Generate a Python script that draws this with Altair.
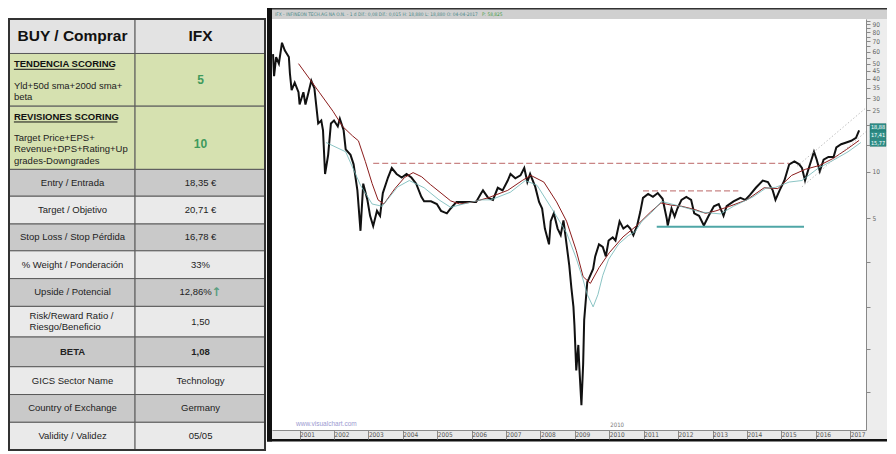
import altair as alt
import pandas as pd

# ================= TABLE CONTENT =================
row_labels = ["BUY / Comprar", "TENDENCIA SCORING", "REVISIONES SCORING", "Entry / Entrada",
              "Target / Objetivo", "Stop Loss / Stop Pérdida", "% Weight / Ponderación",
              "Upside / Potencial", "Risk/Reward  Ratio /", "BETA", "GICS Sector Name",
              "Country of Exchange", "Validity / Validez"]
row_values = ["IFX", "5", "10", "18,35 €", "20,71 €", "16,78 €", "33%", "12,86%", "1,50",
              "1,08", "Technology", "Germany", "05/05"]
tendencia_desc = ["Yld+50d sma+200d  sma+", "beta"]
revisiones_desc = ["Target Price+EPS+", "Revenue+DPS+Rating+Up", "grades-Downgrades"]
risk_label_lines = ["Risk/Reward  Ratio /", "Riesgo/Beneficio"]
upside_arrow = "↑"

# ================= PRICE DATA (decimal year, EUR) =================
price_t = [2000.23, 2000.26, 2000.32, 2000.40, 2000.49, 2000.57, 2000.69, 2000.72, 2000.77, 2000.86, 2000.97,
           2001.00, 2001.11, 2001.17, 2001.26, 2001.34, 2001.43, 2001.54, 2001.63, 2001.68, 2001.74, 2001.83, 2001.91,
           2002.00, 2002.11, 2002.17, 2002.28, 2002.34, 2002.48, 2002.57, 2002.68, 2002.77, 2002.85, 2002.97,
           2003.05, 2003.14, 2003.25, 2003.34, 2003.42, 2003.57, 2003.68, 2003.82, 2003.97,
           2004.11, 2004.25, 2004.39, 2004.54, 2004.62, 2004.82, 2004.99,
           2005.11, 2005.28, 2005.39, 2005.56, 2005.76, 2005.96,
           2006.13, 2006.28, 2006.33, 2006.48, 2006.62, 2006.76, 2006.90,
           2007.05, 2007.13, 2007.27, 2007.42, 2007.53, 2007.62, 2007.70, 2007.85, 2007.96,
           2008.05, 2008.13, 2008.25, 2008.30, 2008.39, 2008.50, 2008.59, 2008.67, 2008.76, 2008.84, 2008.90, 2008.96, 2008.99,
           2009.04, 2009.10, 2009.13, 2009.19, 2009.24, 2009.27, 2009.36, 2009.41, 2009.53, 2009.59, 2009.70, 2009.81, 2009.90, 2009.98,
           2010.10, 2010.18, 2010.30, 2010.41, 2010.53, 2010.61, 2010.70, 2010.81, 2010.90, 2010.98,
           2011.13, 2011.27, 2011.41, 2011.55, 2011.67, 2011.70, 2011.81, 2011.90, 2011.98,
           2012.10, 2012.24, 2012.38, 2012.47, 2012.61, 2012.75, 2012.89,
           2013.04, 2013.18, 2013.32, 2013.41, 2013.61, 2013.81, 2013.95,
           2014.09, 2014.26, 2014.46, 2014.61, 2014.75, 2014.83, 2014.95,
           2015.09, 2015.23, 2015.38, 2015.52, 2015.60, 2015.69, 2015.80, 2015.95,
           2016.03, 2016.12, 2016.23, 2016.37, 2016.52, 2016.60, 2016.74, 2016.89,
           2017.03, 2017.17, 2017.26]
price_v = [57.8, 41.7, 55.4, 50.2, 68.5, 61.2, 55.4, 43.5, 33.8, 37.8, 32.8,
           27.3, 32.8, 27.3, 32.8, 38.9, 34.7, 20.6, 21.5, 18.6, 9.7, 12.9, 20.6,
           21.5, 19.7, 22.1, 18.6, 14.0, 12.9, 11.2, 7.6, 4.16, 8.4, 6.6,
           5.2, 4.47, 5.6, 5.2, 7.3, 9.2, 10.6, 9.7, 9.2,
           9.7, 9.2, 8.4, 6.9, 6.45, 6.45, 6.2,
           5.6, 5.4, 5.8, 6.4, 6.4, 6.4,
           6.4, 7.3, 7.6, 6.8, 6.6, 7.9, 7.6,
           8.8, 9.7, 9.1, 9.5, 10.6, 8.6, 9.7, 8.0, 6.4,
           5.8, 4.3, 3.4, 4.8, 5.4, 4.3, 3.9, 4.86, 3.4, 2.47, 1.78, 1.34, 1.01,
           0.52, 0.76, 0.54, 0.31, 0.57, 1.10, 1.94, 2.05, 2.36, 2.84, 3.4, 3.27, 2.84, 3.6,
           3.77, 3.6, 4.79, 4.3, 4.5, 4.3, 3.9, 4.5, 5.5, 6.8,
           7.2, 6.9, 7.3, 6.7, 5.0, 4.5, 5.8, 5.14, 5.8,
           6.6, 6.9, 6.6, 5.4, 5.2, 4.5, 5.2,
           6.0, 6.2, 5.2, 6.0, 6.45, 6.8, 6.6,
           7.1, 7.9, 8.8, 8.6, 7.6, 6.6, 7.6,
           8.8, 11.2, 11.7, 11.2, 10.6, 8.8, 10.6, 13.5,
           12.0, 10.1, 12.0, 12.5, 12.5, 14.4, 15.1, 15.5,
           15.9, 16.6, 18.6]

# slow moving average (maroon)
sma_red_t = [2000.97, 2001.29, 2001.57, 2001.97, 2002.25, 2002.54, 2002.71, 2002.91, 2003.11, 2003.28,
             2003.45, 2003.77, 2004.05, 2004.30, 2004.55, 2004.80, 2005.11, 2005.39, 2005.65, 2006.05,
             2006.48, 2007.05, 2007.47, 2007.72, 2008.10, 2008.47, 2008.76, 2009.04, 2009.24, 2009.45,
             2009.70, 2010.00, 2010.40, 2010.80, 2011.20, 2011.50, 2011.80, 2012.10, 2012.50, 2012.80,
             2013.10, 2013.50, 2014.00, 2014.50, 2014.90, 2015.30, 2015.70, 2016.10, 2016.50, 2016.90, 2017.26]
sma_red_v = [50.2, 40.0, 32.8, 24.7, 19.7, 17.1, 15.9, 11.7, 8.4, 6.6,
             6.2, 7.8, 9.2, 9.9, 9.3, 8.3, 7.3, 6.5, 6.2, 6.4,
             6.8, 7.6, 8.8, 9.5, 8.6, 6.4, 4.8, 3.1, 2.1, 1.9,
             2.4, 3.0, 3.8, 4.5, 5.5, 6.3, 6.1, 6.0, 5.7, 5.4,
             5.6, 6.0, 6.6, 7.9, 7.8, 9.5, 10.4, 11.0, 12.2, 14.0, 16.0]
# long moving average (teal)
sma_teal_t = [2001.77, 2002.34, 2002.77, 2003.11, 2003.40, 2003.85, 2004.19, 2004.62, 2005.05, 2005.39,
              2005.76, 2006.28, 2006.56, 2007.13, 2007.56, 2007.90, 2008.33, 2008.76, 2009.04, 2009.24,
              2009.36, 2009.53, 2009.67, 2009.81, 2009.98, 2010.27, 2010.55, 2010.75, 2010.95, 2011.24,
              2011.52, 2011.81, 2012.18, 2012.66, 2013.23, 2013.61, 2014.18, 2014.55, 2014.83, 2015.23,
              2015.60, 2016.08, 2016.45, 2016.94, 2017.31]
sma_teal_v = [15.5, 13.5, 8.2, 6.2, 6.0, 8.0, 8.8, 7.9, 6.6, 5.9,
              6.2, 6.6, 6.6, 7.4, 8.8, 8.2, 5.8, 4.04, 2.76, 2.0,
              1.61, 1.34, 1.61, 2.14, 2.72, 3.41, 3.87, 4.1, 4.8, 5.5,
              6.45, 6.2, 5.9, 5.5, 5.35, 6.0, 6.9, 7.85, 7.95, 8.6,
              8.8, 10.6, 11.7, 13.5, 15.5]

resist_level = [11.37, 7.54]
resist_start = [2003.14, 2010.98]
resist_end = [2015.23, 2013.75]
support_level = [4.42]
support_start = [2011.38]
support_end = [2015.66]
chan_up_t = [2015.46, 2017.48]
chan_up_v = [10.9, 26.2]
chan_lo_t = [2015.60, 2017.48]
chan_lo_v = [8.0, 18.4]
tag_labels = ["18,88", "17,41", "15,77"]
tag_values = [19.4, 17.4, 15.5]
y_tick_values = [0.375, 0.71, 1.34, 2.6, 5, 10, 15, 20, 25, 30, 35, 40, 45, 50, 55, 60, 65, 70, 75, 80, 85, 90, 95]
y_label_values = [5, 10, 25, 30, 35, 40, 45, 50, 60, 70, 80, 90]
year_ticks = list(range(2001, 2018))
header_text = "IFX - INFINEON TECH.AG NA O.N. - 1 d  Dif.: 0,08  Dif.: 0,015 H: 18,880 L: 18,880 O: 04-04-2017"
header_text2 = "P: 58,825"

# ================= LAYOUT =================
FONT = "Liberation Sans, Arial, sans-serif"
NARROW = "Liberation Sans Narrow, DejaVu Sans Condensed, Liberation Sans, sans-serif"
TW, TH = 257, 433
row_edges = [0, 36, 91, 157, 185, 214, 242, 271, 300, 332, 363, 392, 421, 450]
col_edges = [0, 129, 262]
HEAD, GREEN, DARK, LIGHT = "#e3e3e3", "#d6e1b0", "#c9c9c9", "#eaeaea"
row_fills = [HEAD, GREEN, GREEN, DARK, LIGHT, DARK, LIGHT, DARK, LIGHT, DARK, LIGHT, DARK, LIGHT]
W, H = 594, 411

tx = alt.Scale(domain=[0, 263], nice=False, zero=False)
ty = alt.Scale(domain=[0, 452], nice=False, zero=False, reverse=True)

cells = []
for i in range(len(row_labels)):
    for c in range(2):
        cells.append(dict(x=col_edges[c], x2=col_edges[c + 1], y=row_edges[i], y2=row_edges[i + 1], fill=row_fills[i]))
cells_df = pd.DataFrame(cells)
center = [(row_edges[i] + row_edges[i + 1]) / 2 for i in range(len(row_labels))]


def tpos(df):
    return dict(x=alt.X("x:Q", scale=tx, axis=None), y=alt.Y("y:Q", scale=ty, axis=None), text="t:N")


cell_layer = alt.Chart(cells_df).mark_rect(stroke="#5a5a5a", strokeWidth=1).encode(
    x=alt.X("x:Q", scale=tx, axis=None), x2="x2:Q",
    y=alt.Y("y:Q", scale=ty, axis=None), y2="y2:Q",
    fill=alt.Fill("fill:N", scale=None))
outer_df = pd.DataFrame([dict(x=col_edges[0], x2=col_edges[-1], y=row_edges[0], y2=row_edges[-1])])
outer_layer = alt.Chart(outer_df).mark_rect(fillOpacity=0, stroke="#333", strokeWidth=2).encode(
    x=alt.X("x:Q", scale=tx, axis=None), x2="x2:Q", y=alt.Y("y:Q", scale=ty, axis=None), y2="y2:Q")

reg_rows = [3, 4, 5, 6, 7, 10, 11, 12]
reg = []
for i in reg_rows:
    reg.append(dict(x=65, y=center[i], t=row_labels[i]))
    reg.append(dict(x=191 if i == 7 else 196, y=center[i], t=row_values[i]))
reg.append(dict(x=196, y=center[8], t=row_values[8]))
reg_df = pd.DataFrame(reg)
reg_layer = alt.Chart(reg_df).mark_text(font=FONT, fontSize=9.5, color="#222", baseline="middle").encode(**tpos(reg_df))

beta_df = pd.DataFrame([dict(x=65, y=center[9], t=row_labels[9]), dict(x=196, y=center[9], t=row_values[9])])
beta_layer = alt.Chart(beta_df).mark_text(font=FONT, fontSize=9.5, fontWeight="bold", color="#222",
                                          baseline="middle").encode(**tpos(beta_df))

head_df = pd.DataFrame([dict(x=65, y=center[0], t=row_labels[0]), dict(x=196, y=center[0], t=row_values[0])])
head_layer = alt.Chart(head_df).mark_text(font=FONT, fontSize=15.5, fontWeight="bold", color="#111",
                                          baseline="middle").encode(**tpos(head_df))

title_df = pd.DataFrame([dict(x=5, y=row_edges[1] + 11, t=row_labels[1]), dict(x=5, y=row_edges[2] + 11, t=row_labels[2])])
title_layer = alt.Chart(title_df).mark_text(font=FONT, fontSize=9.5, fontWeight="bold", color="#111", align="left",
                                            baseline="middle").encode(**tpos(title_df))
ul_df = pd.DataFrame([dict(x=5, x2=108, y=row_edges[1] + 16.5), dict(x=5, x2=111, y=row_edges[2] + 16.5)])
ul_layer = alt.Chart(ul_df).mark_rule(color="#111", strokeWidth=1).encode(
    x=alt.X("x:Q", scale=tx, axis=None), x2="x2:Q", y=alt.Y("y:Q", scale=ty, axis=None))

left = []
for k, s in enumerate(tendencia_desc):
    left.append(dict(x=5, y=row_edges[1] + 34 + 11 * k, t=s))
for k, s in enumerate(revisiones_desc):
    left.append(dict(x=5, y=row_edges[2] + 33 + 12 * k, t=s))
for k, s in enumerate(risk_label_lines):
    left.append(dict(x=21, y=center[8] - 5.5 + 11 * k, t=s))
left_df = pd.DataFrame(left)
left_layer = alt.Chart(left_df).mark_text(font=FONT, fontSize=9.5, color="#222", align="left",
                                          baseline="middle").encode(**tpos(left_df))

green_df = pd.DataFrame([dict(x=196, y=64, t=row_values[1]), dict(x=196, y=131, t=row_values[2])])
green_layer = alt.Chart(green_df).mark_text(font=FONT, fontSize=12, fontWeight="bold", color="#3f9a5c",
                                            baseline="middle").encode(**tpos(green_df))
arrow_df = pd.DataFrame([dict(x=212, y=center[7], t=upside_arrow)])
arrow_layer = alt.Chart(arrow_df).mark_text(font="DejaVu Sans", fontSize=12, fontWeight="bold", color="#5a9e80",
                                            baseline="middle").encode(**tpos(arrow_df))

table = alt.layer(cell_layer, outer_layer, reg_layer, beta_layer, head_layer, title_layer, ul_layer,
                  left_layer, green_layer, arrow_layer).properties(width=TW, height=TH)


# ================= STOCK CHART =================
def dec_to_date(t):
    y = int(t)
    return pd.Timestamp(year=y, month=1, day=1) + pd.Timedelta(days=(t - y) * 365.25)


def dt(t):
    d = dec_to_date(t)
    return alt.DateTime(year=d.year, month=d.month, date=d.day)


x_scale = alt.Scale(domain=[dt(2000.20), dt(2017.46)])
y_scale = alt.Scale(type="log", domain=[0.214, 97.6], nice=False)

price_df = pd.DataFrame({"date": [dec_to_date(t) for t in price_t], "value": price_v})
red_df = pd.DataFrame({"date": [dec_to_date(t) for t in sma_red_t], "value": sma_red_v})
teal_df = pd.DataFrame({"date": [dec_to_date(t) for t in sma_teal_t], "value": sma_teal_v})

res_rows = []
for k in range(len(resist_level)):
    res_rows.append(dict(g=k, date=dec_to_date(resist_start[k]), value=resist_level[k]))
    res_rows.append(dict(g=k, date=dec_to_date(resist_end[k]), value=resist_level[k]))
res_df = pd.DataFrame(res_rows)
sup_df = pd.DataFrame([dict(date=dec_to_date(support_start[0]), value=support_level[0]),
                       dict(date=dec_to_date(support_end[0]), value=support_level[0])])
chan_rows = []
for k, (ts, vs) in enumerate([(chan_up_t, chan_up_v), (chan_lo_t, chan_lo_v)]):
    for t, v in zip(ts, vs):
        chan_rows.append(dict(g=k, date=dec_to_date(t), value=v))
chan_df = pd.DataFrame(chan_rows)

label_list = "[" + ",".join(str(v) for v in y_label_values) + "]"
x_axis = alt.Axis(values=[alt.DateTime(year=y, month=1, date=1) for y in year_ticks], format="%Y", title=None,
                  grid=False, zindex=1, tickSize=9, tickColor="#8a8a8a", domainColor="#8a8a8a",
                  labelAlign="left", labelBaseline="top", labelPadding=-8, labelFontSize=6.5,
                  labelColor="#555", labelFont=NARROW, labelOverlap=False, labelSeparation=0)
y_axis = alt.Axis(orient="right", values=y_tick_values, title=None, grid=False, zindex=1, tickSize=4,
                  tickColor="#888", domainColor="#888", labelFontSize=6.5, labelColor="#666",
                  labelPadding=2, labelFont=NARROW, labelOverlap=False, format="d",
                  labelExpr="indexof(" + label_list + ", datum.value) >= 0 ? datum.label : ''")

# every layer carries the same axis definition so that the shared axes merge cleanly
X = lambda: alt.X("date:T", scale=x_scale, axis=x_axis)
Y = lambda: alt.Y("value:Q", scale=y_scale, axis=y_axis)

one = pd.DataFrame({"k": [0]})


def deco_rect(x, x2, y, y2, color, opacity=1.0):
    return alt.Chart(one).mark_rect(color=color, opacity=opacity).encode(
        x=alt.value(x), x2=alt.value(x2), y=alt.value(y), y2=alt.value(y2))


decos = [
    deco_rect(0, W + 21, H, H + 9, "#9a9a9a", 0.22),
    deco_rect(W, W + 21, 0, H, "#9a9a9a", 0.18),
    deco_rect(-5, W + 21, -11, 0, "#d0d0d0"),
    deco_rect(-5, W + 21, -11, -9.5, "#333333"),
    deco_rect(-5, 0, -11, H + 11.5, "#111111"),
    deco_rect(-5, W + 21, H + 9, H + 11.5, "#111111"),
]

price_layer = alt.Chart(price_df).mark_line(color="#111", strokeWidth=2, clip=True).encode(x=X(), y=Y())
red_layer = alt.Chart(red_df).mark_line(color="#8b1c1c", strokeWidth=1, clip=True).encode(x=X(), y=Y())
teal_layer = alt.Chart(teal_df).mark_line(color="#6db5b5", strokeWidth=0.8, clip=True).encode(x=X(), y=Y())
res_layer = alt.Chart(res_df).mark_line(color="#c98585", strokeWidth=1.3, strokeDash=[6, 3]).encode(
    x=X(), y=Y(), detail="g:N")
sup_layer = alt.Chart(sup_df).mark_line(color="#4fa6a6", strokeWidth=2).encode(x=X(), y=Y())
chan_layer = alt.Chart(chan_df).mark_line(color="#b0b0b0", strokeWidth=0.8, strokeDash=[1.5, 2], clip=True).encode(
    x=X(), y=Y(), detail="g:N")

tag_df = pd.DataFrame({"value": tag_values, "label": tag_labels})
tag_rect = alt.Chart(tag_df).transform_calculate(top="datum.value * 1.058", bot="datum.value / 1.058").mark_rect(
    color="#2f8f88", stroke="#1f6f68", strokeWidth=0.5).encode(
    x=alt.value(W + 4), x2=alt.value(W + 20), y=alt.Y("top:Q", scale=y_scale, axis=y_axis), y2="bot:Q")
tag_text = alt.Chart(tag_df).mark_text(font=NARROW, fontSize=5.5, color="white", baseline="middle").encode(
    x=alt.value(W + 12), y=Y(), text="label:N")

hdr1 = alt.Chart(one).mark_text(font=NARROW, fontSize=4.8, color="#4a8888", align="left", baseline="middle",
                                text=header_text).encode(x=alt.value(3), y=alt.value(-4.5))
hdr2 = alt.Chart(one).mark_text(font=NARROW, fontSize=4.8, color="#3f9a3f", align="left", baseline="middle",
                                text=header_text2).encode(x=alt.value(210), y=alt.value(-4.5))
wm = alt.Chart(one).mark_text(font=FONT, fontSize=6.5, color="#9a9ad0", align="left", baseline="middle",
                              text="www.visualchart.com").encode(x=alt.value(24), y=alt.value(H - 6))
lbl2010 = alt.Chart(pd.DataFrame({"date": [pd.Timestamp(2010, 1, 1)], "t": ["2010"]})).mark_text(
    font=NARROW, fontSize=6, color="#777", align="left", baseline="middle", dx=1).encode(
    x=X(), y=alt.value(H - 5), text="t:N")

stock = alt.layer(*decos, price_layer, red_layer, teal_layer, res_layer, sup_layer, chan_layer,
                  tag_rect, tag_text, hdr1, hdr2, wm, lbl2010).properties(width=W, height=H)

chart = (alt.hconcat(table, stock, spacing=0)
         .properties(padding=0)
         .configure_view(stroke=None)
         .configure_axis(labelOverlap=False))
chart.save("out.html", embed_options={"renderer": "svg", "actions": False})
